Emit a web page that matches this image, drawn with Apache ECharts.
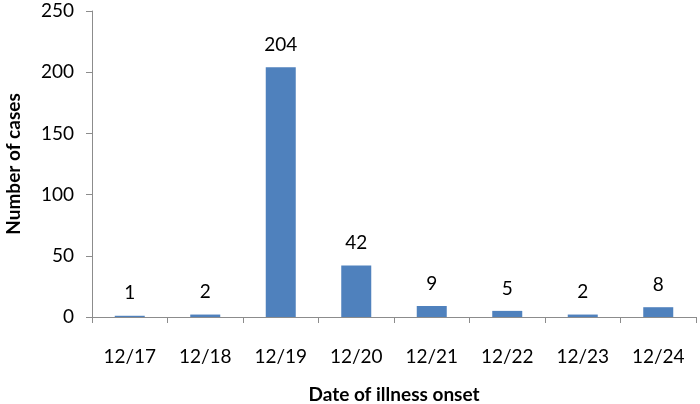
<!DOCTYPE html>
<html>
<head>
<meta charset="utf-8">
<script src="https://cdn.jsdelivr.net/npm/echarts@6/dist/echarts.min.js"></script>
<style>
html, body { margin: 0; padding: 0; background: #fff; }
#main { width: 700px; height: 404px; }
</style>
</head>
<body>
<div id="main"></div>
<script>
var dates = ['12/17', '12/18', '12/19', '12/20', '12/21', '12/22', '12/23', '12/24'];
var cases = [1, 2, 204, 42, 9, 5, 2, 8];
var yTicks = [0, 50, 100, 150, 200, 250];

var myChart = echarts.init(document.getElementById('main'));
var font = 'Lato, "Open Sans", sans-serif';

var option = {
    animation: false,
    grid: {
        left: 92,
        right: 4,
        top: 11,
        bottom: 87,
        containLabel: false,
        outerBoundsMode: 'none'
    },
    xAxis: {
        type: 'category',
        data: dates,
        name: 'Date of illness onset',
        nameLocation: 'middle',
        nameGap: 68,
        nameTextStyle: { fontFamily: font, fontSize: 19, fontWeight: 'bold', color: '#000' },
        axisLine: { lineStyle: { color: '#8c8c8c', width: 1 } },
        axisTick: { show: true, length: 6, lineStyle: { color: '#8c8c8c' } },
        axisLabel: { fontFamily: font, fontSize: 19, color: '#000', margin: 30 }
    },
    yAxis: {
        type: 'value',
        min: yTicks[0],
        max: yTicks[yTicks.length - 1],
        interval: 50,
        name: 'Number of cases',
        nameLocation: 'middle',
        nameGap: 69,
        nameTextStyle: { fontFamily: font, fontSize: 19, fontWeight: 'bold', color: '#000' },
        axisLine: { show: true, lineStyle: { color: '#8c8c8c', width: 1 } },
        axisTick: { show: true, length: 6, lineStyle: { color: '#8c8c8c' } },
        axisLabel: { fontFamily: font, fontSize: 19, color: '#000', margin: 18 },
        splitLine: { show: false }
    },
    series: [
        {
            type: 'bar',
            data: cases,
            barWidth: 30,
            itemStyle: { color: '#4f81bd' },
            label: {
                show: true,
                position: 'top',
                distance: 13,
                fontFamily: font,
                fontSize: 19,
                color: '#000'
            }
        }
    ]
};
myChart.setOption(option);
</script>
</body>
</html>
